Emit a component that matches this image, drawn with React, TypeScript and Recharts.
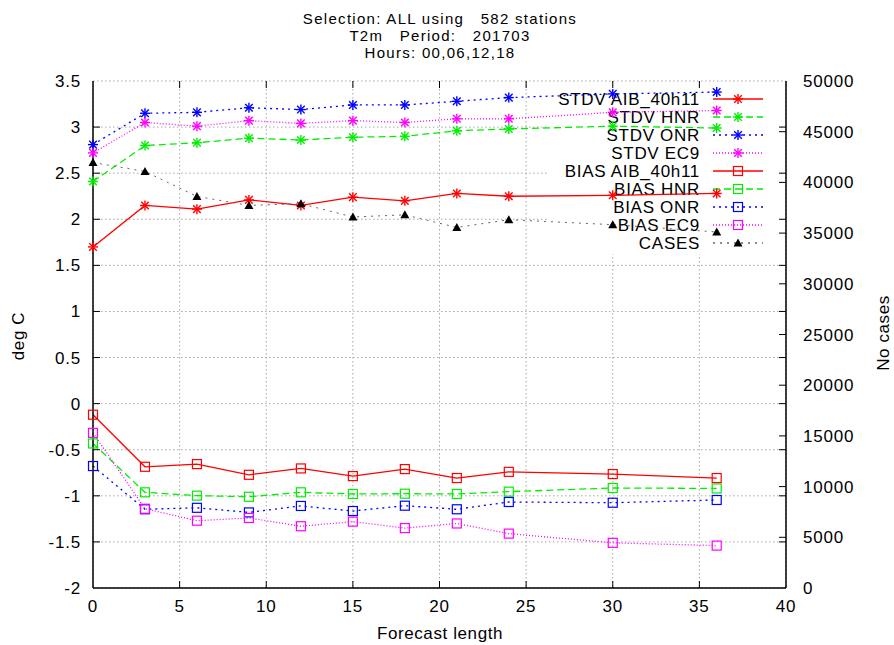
import React from 'react';
import { LineChart, Line, XAxis, YAxis, CartesianGrid } from 'recharts';

// Forecast verification: T2m STDV / BIAS per model, plus number of cases
const FORECAST = [0, 3, 6, 9, 12, 15, 18, 21, 24, 30, 36];
const STDV_AIB = [1.7, 2.15, 2.11, 2.21, 2.15, 2.24, 2.2, 2.28, 2.25, 2.26, 2.28];
const STDV_HNR = [2.41, 2.8, 2.83, 2.88, 2.86, 2.89, 2.9, 2.96, 2.98, 3.01, 2.99];
const STDV_ONR = [2.81, 3.15, 3.16, 3.21, 3.19, 3.24, 3.24, 3.28, 3.32, 3.36, 3.38];
const STDV_EC9 = [2.72, 3.05, 3.01, 3.07, 3.04, 3.07, 3.05, 3.09, 3.09, 3.16, 3.18];
const BIAS_AIB = [-0.12, -0.685, -0.656, -0.772, -0.703, -0.786, -0.71, -0.807, -0.74, -0.764, -0.807];
const BIAS_HNR = [-0.432, -0.962, -0.998, -1.01, -0.962, -0.98, -0.977, -0.98, -0.955, -0.915, -0.92];
const BIAS_ONR = [-0.677, -1.146, -1.13, -1.18, -1.11, -1.165, -1.107, -1.146, -1.067, -1.075, -1.045];
const BIAS_EC9 = [-0.317, -1.14, -1.27, -1.24, -1.33, -1.28, -1.35, -1.3, -1.41, -1.51, -1.54];
const CASES = [41960, 41080, 38620, 37730, 37900, 36590, 36800, 35560, 36320, 35830, 35110];

const X_TICKS = [0, 5, 10, 15, 20, 25, 30, 35, 40];
const Y_TICKS = [-2, -1.5, -1, -0.5, 0, 0.5, 1, 1.5, 2, 2.5, 3, 3.5];
const Y2_TICKS = [0, 5000, 10000, 15000, 20000, 25000, 30000, 35000, 40000, 45000, 50000];

const TITLE = ['Selection: ALL using   582 stations', 'T2m   Period:   201703', 'Hours: 00,06,12,18'];

const FONT = '"Liberation Sans", Arial, Helvetica, sans-serif';
const RED = '#ff0000';
const GREEN = '#00ee00';
const BLUE = '#0000ff';
const MAGENTA = '#ff00ff';

const W = 894;
const H = 645;
const PLOT_LEFT = 93;
const PLOT_RIGHT = 786;
const PLOT_TOP = 81;
const PLOT_BOTTOM = 588;
const TICK_LEN = 7;

const chartData = FORECAST.map((f, i) => ({
  f,
  stdvAib: STDV_AIB[i],
  stdvHnr: STDV_HNR[i],
  stdvOnr: STDV_ONR[i],
  stdvEc9: STDV_EC9[i],
  biasAib: BIAS_AIB[i],
  biasHnr: BIAS_HNR[i],
  biasOnr: BIAS_ONR[i],
  biasEc9: BIAS_EC9[i],
  cases: CASES[i],
}));

// gnuplot-like point shapes
function Star({ cx, cy, color }: { cx: number; cy: number; color: string }) {
  const r = 5;
  const d = 3.8;
  return (
    <g stroke={color} strokeWidth={1.4}>
      <line x1={cx - r} y1={cy} x2={cx + r} y2={cy} />
      <line x1={cx} y1={cy - r} x2={cx} y2={cy + r} />
      <line x1={cx - d} y1={cy - d} x2={cx + d} y2={cy + d} />
      <line x1={cx - d} y1={cy + d} x2={cx + d} y2={cy - d} />
    </g>
  );
}

function Square({ cx, cy, color }: { cx: number; cy: number; color: string }) {
  return <rect x={cx - 4.5} y={cy - 4.5} width={9} height={9} fill="none" stroke={color} strokeWidth={1.2} />;
}

function Triangle({ cx, cy, color }: { cx: number; cy: number; color: string }) {
  return <path d={`M${cx},${cy - 4.5} L${cx + 4.5},${cy + 3.5} L${cx - 4.5},${cy + 3.5} Z`} fill={color} />;
}

const starDot = (color: string) => (p: any) => <Star key={p.index} cx={p.cx} cy={p.cy} color={color} />;
const squareDot = (color: string) => (p: any) => <Square key={p.index} cx={p.cx} cy={p.cy} color={color} />;
const triDot = (color: string) => (p: any) => <Triangle key={p.index} cx={p.cx} cy={p.cy} color={color} />;

const tickText = { fontSize: 17, fontFamily: FONT, fill: '#000', letterSpacing: 0.8 };

// ticks point inward, mirrored on the opposite border
function LeftTick(p: any) {
  const y = p.y;
  const atEdge = y < PLOT_TOP + 1 || y > PLOT_BOTTOM - 1;
  return (
    <g>
      {!atEdge && (
        <>
          <line x1={PLOT_LEFT} y1={y} x2={PLOT_LEFT + TICK_LEN} y2={y} stroke="#000" />
          <line x1={PLOT_RIGHT} y1={y} x2={PLOT_RIGHT - TICK_LEN} y2={y} stroke="#000" />
        </>
      )}
      <text x={81} y={y + 6} textAnchor="end" {...tickText}>
        {p.payload.value}
      </text>
    </g>
  );
}

function RightTick(p: any) {
  const y = p.y;
  const atEdge = y < PLOT_TOP + 1 || y > PLOT_BOTTOM - 1;
  return (
    <g>
      {!atEdge && <line x1={PLOT_RIGHT} y1={y} x2={PLOT_RIGHT - TICK_LEN} y2={y} stroke="#000" />}
      <text x={803} y={y + 6} textAnchor="start" {...tickText}>
        {p.payload.value}
      </text>
    </g>
  );
}

function BottomTick(p: any) {
  const x = p.x;
  const atEdge = x < PLOT_LEFT + 1 || x > PLOT_RIGHT - 1;
  return (
    <g>
      {!atEdge && (
        <>
          <line x1={x} y1={PLOT_BOTTOM} x2={x} y2={PLOT_BOTTOM - TICK_LEN} stroke="#000" />
          <line x1={x} y1={PLOT_TOP} x2={x} y2={PLOT_TOP + TICK_LEN} stroke="#000" />
        </>
      )}
      <text x={x} y={612} textAnchor="middle" {...tickText}>
        {p.payload.value}
      </text>
    </g>
  );
}

const LEGEND = [
  { label: 'STDV AIB_40h11', color: RED, dash: undefined, shape: 'star' },
  { label: 'STDV HNR', color: GREEN, dash: '7 4', shape: 'star' },
  { label: 'STDV ONR', color: BLUE, dash: '2 4', shape: 'star' },
  { label: 'STDV EC9', color: MAGENTA, dash: '1 2', shape: 'star' },
  { label: 'BIAS AIB_40h11', color: RED, dash: undefined, shape: 'square' },
  { label: 'BIAS HNR', color: GREEN, dash: '7 4', shape: 'square' },
  { label: 'BIAS ONR', color: BLUE, dash: '2 4', shape: 'square' },
  { label: 'BIAS EC9', color: MAGENTA, dash: '1 2', shape: 'square' },
  { label: 'CASES', color: '#666', dash: '2 5', shape: 'tri' },
];

function Key() {
  return (
    <g>
      <rect x={548} y={88} width={232} height={166} fill="#fff" />
      {LEGEND.map((item, i) => {
        const y = 99 + i * 18;
        return (
          <g key={item.label}>
            <text x={700} y={y + 6} textAnchor="end" fontSize={17} fontFamily={FONT} fill="#000" letterSpacing={0.7}>
              {item.label}
            </text>
            <line x1={713} y1={y} x2={763} y2={y} stroke={item.color} strokeWidth={1.3} strokeDasharray={item.dash} />
            {item.shape === 'star' && <Star cx={738} cy={y} color={item.color} />}
            {item.shape === 'square' && <Square cx={738} cy={y} color={item.color} />}
            {item.shape === 'tri' && <Triangle cx={738} cy={y} color="#000" />}
          </g>
        );
      })}
    </g>
  );
}

export default function App() {
  return (
    <div style={{ position: 'absolute', left: 0, top: 0, width: W, height: H, background: '#fff' }}>
      <LineChart width={W} height={H} data={chartData} margin={{ top: PLOT_TOP, right: 0, bottom: 0, left: 0 }}>
        <CartesianGrid
          xAxisId="bottom"
          yAxisId="left"
          stroke="#a8a8a8"
          strokeDasharray="1.5 2.5"
          horizontalValues={Y_TICKS}
          verticalValues={X_TICKS}
        />
        <XAxis
          xAxisId="bottom"
          dataKey="f"
          type="number"
          domain={[0, 40]}
          ticks={X_TICKS}
          height={H - PLOT_BOTTOM}
          axisLine={{ stroke: '#000', strokeWidth: 1.5 }}
          tickLine={false}
          tick={BottomTick}
          interval={0}
        />
        <XAxis
          xAxisId="top"
          orientation="top"
          dataKey="f"
          type="number"
          domain={[0, 40]}
          ticks={X_TICKS}
          height={0}
          axisLine={{ stroke: '#000', strokeWidth: 1.5 }}
          tickLine={false}
          tick={false}
        />
        <YAxis
          yAxisId="left"
          type="number"
          domain={[-2, 3.5]}
          ticks={Y_TICKS}
          width={PLOT_LEFT}
          axisLine={{ stroke: '#000', strokeWidth: 1.5 }}
          tickLine={false}
          tick={LeftTick}
          interval={0}
        />
        <YAxis
          yAxisId="right"
          orientation="right"
          type="number"
          domain={[0, 50000]}
          ticks={Y2_TICKS}
          width={W - PLOT_RIGHT}
          axisLine={{ stroke: '#000', strokeWidth: 1.5 }}
          tickLine={false}
          tick={RightTick}
          interval={0}
        />

        <Key />

        <Line xAxisId="bottom" yAxisId="left" dataKey="stdvAib" stroke={RED} strokeWidth={1.3} dot={starDot(RED)} isAnimationActive={false} />
        <Line xAxisId="bottom" yAxisId="left" dataKey="stdvHnr" stroke={GREEN} strokeWidth={1.3} strokeDasharray="7 4" dot={starDot(GREEN)} isAnimationActive={false} />
        <Line xAxisId="bottom" yAxisId="left" dataKey="stdvOnr" stroke={BLUE} strokeWidth={1.3} strokeDasharray="2 4" dot={starDot(BLUE)} isAnimationActive={false} />
        <Line xAxisId="bottom" yAxisId="left" dataKey="stdvEc9" stroke={MAGENTA} strokeWidth={1.3} strokeDasharray="1 2" dot={starDot(MAGENTA)} isAnimationActive={false} />
        <Line xAxisId="bottom" yAxisId="left" dataKey="biasAib" stroke={RED} strokeWidth={1.3} dot={squareDot(RED)} isAnimationActive={false} />
        <Line xAxisId="bottom" yAxisId="left" dataKey="biasHnr" stroke={GREEN} strokeWidth={1.3} strokeDasharray="7 4" dot={squareDot(GREEN)} isAnimationActive={false} />
        <Line xAxisId="bottom" yAxisId="left" dataKey="biasOnr" stroke={BLUE} strokeWidth={1.3} strokeDasharray="2 4" dot={squareDot(BLUE)} isAnimationActive={false} />
        <Line xAxisId="bottom" yAxisId="left" dataKey="biasEc9" stroke={MAGENTA} strokeWidth={1.3} strokeDasharray="1 2" dot={squareDot(MAGENTA)} isAnimationActive={false} />
        <Line xAxisId="bottom" yAxisId="right" dataKey="cases" stroke="#666" strokeWidth={1} strokeDasharray="2 5" dot={triDot('#000')} isAnimationActive={false} />

        <g fontFamily={FONT} fill="#000">
          {TITLE.map((t, i) => (
            <text key={i} x={440} y={24 + i * 17} textAnchor="middle" fontSize={15} letterSpacing={1.3} style={{ whiteSpace: 'pre' }}>
              {t}
            </text>
          ))}
          <text x={440} y={639} textAnchor="middle" fontSize={17} letterSpacing={0.6}>
            Forecast length
          </text>
          <text x={24} y={336} textAnchor="middle" fontSize={17} letterSpacing={0.6} transform="rotate(-90 24 336)">
            deg C
          </text>
          <text x={889} y={333} textAnchor="middle" fontSize={17} letterSpacing={0.6} transform="rotate(-90 889 333)">
            No cases
          </text>
        </g>
      </LineChart>
    </div>
  );
}
